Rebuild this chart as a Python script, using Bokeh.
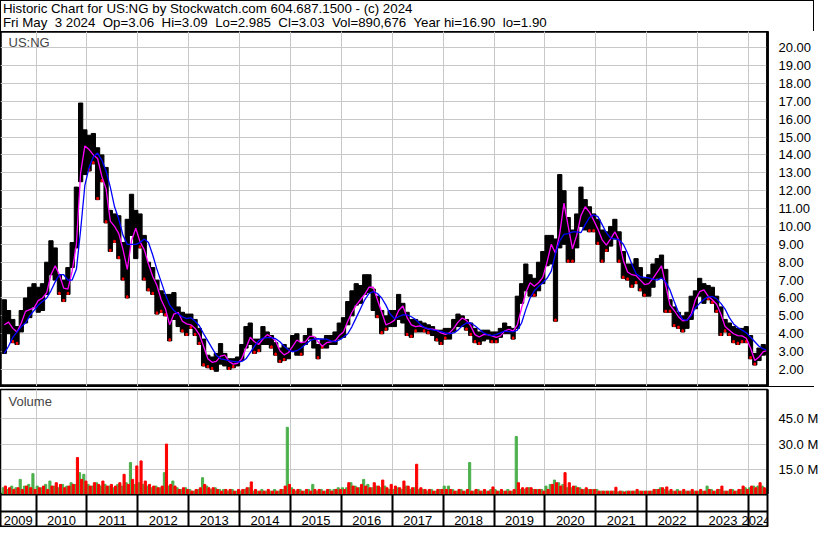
from bokeh.plotting import figure
from bokeh.layouts import column
from bokeh.models import (Range1d, FixedTicker, Grid, Label, LabelSet, Span, Div,
                          ColumnDataSource, PrintfTickFormatter)
from bokeh.embed import file_html
from bokeh.resources import INLINE
from bokeh.core.properties import value

# ---------------- data (monthly, May 2009 .. May 2024) ----------------
first_year, first_month = 2009, 5

high = [
    5.9, 5.3, 4.8, 4.4, 5.3, 6.0, 6.6, 6.8,                                  # 2009 May-Dec
    6.6, 6.8, 8.0, 9.2, 8.8, 7.3, 7.0, 7.7, 9.1, 12.2, 16.9, 15.4,           # 2010
    15.1, 15.2, 14.4, 14.0, 13.3, 10.9, 10.7, 10.6, 9.1, 10.4, 11.8, 10.9,   # 2011
    10.7, 9.5, 8.0, 7.7, 7.0, 6.4, 6.2, 6.2, 6.3, 5.5, 5.2, 5.1,             # 2012
    5.1, 4.8, 4.3, 3.7, 2.8, 2.7, 2.9, 3.45, 2.9, 2.6, 2.6, 2.7,             # 2013
    3.4, 4.4, 4.6, 3.7, 3.7, 4.4, 4.1, 3.9, 3.5, 3.2, 3.4, 3.2,              # 2014
    3.9, 4.0, 3.5, 3.9, 4.3, 3.8, 3.4, 3.7, 3.9, 3.9, 4.1, 4.6,              # 2015
    4.9, 5.8, 6.4, 6.8, 6.7, 7.3, 7.3, 6.5, 6.1, 5.3, 5.0, 5.3,              # 2016
    5.3, 6.2, 5.7, 5.2, 4.8, 4.8, 4.7, 4.6, 4.5, 4.4, 4.2, 4.2,              # 2017
    4.3, 4.3, 4.8, 5.1, 5.0, 4.8, 4.6, 4.3, 4.1, 4.2, 4.2, 4.1,              # 2018
    4.1, 4.3, 4.6, 4.4, 4.3, 6.1, 6.8, 7.9, 7.3, 7.1, 8.0, 8.6,              # 2019
    9.5, 9.5, 9.3, 12.9, 12.0, 10.5, 9.8, 10.7, 12.2, 11.5, 11.1, 10.7,      # 2020
    10.4, 9.8, 9.7, 10.0, 10.4, 9.7, 8.6, 7.9, 7.9, 8.2, 7.7, 7.1,           # 2021
    7.3, 7.9, 8.2, 8.4, 7.6, 5.9, 5.5, 5.2, 5.0, 5.2, 6.1, 6.4,              # 2022
    7.1, 6.8, 6.7, 6.6, 6.1, 5.5, 4.8, 4.6, 4.4, 4.3, 4.3, 4.4,              # 2023
    3.9, 2.9, 3.2, 3.4, 3.2,                                                 # 2024 Jan-May
]
low = [
    2.9, 4.0, 3.5, 3.4, 4.1, 4.6, 4.9, 5.5,
    5.2, 5.3, 6.2, 7.3, 7.0, 6.2, 5.8, 6.2, 7.7, 8.8, 12.5, 12.9,
    13.1, 13.5, 11.5, 12.5, 10.2, 8.6, 9.1, 8.2, 7.0, 6.0, 9.5, 8.2,
    8.8, 7.0, 6.4, 6.2, 5.1, 5.2, 5.0, 3.6, 4.8, 4.4, 4.1, 3.9,
    4.3, 3.9, 3.4, 2.2, 2.1, 2.0, 1.9, 2.3, 2.2, 2.0, 2.1, 2.2,
    2.5, 3.2, 3.4, 2.9, 3.0, 3.4, 3.4, 3.2, 2.8, 2.4, 2.5, 2.6,
    3.0, 2.8, 2.8, 3.4, 3.7, 3.2, 2.6, 3.2, 3.2, 3.4, 3.4, 3.7,
    3.8, 4.5, 5.0, 5.6, 5.7, 6.2, 6.3, 5.3, 4.9, 4.0, 4.2, 4.4,
    4.4, 4.8, 4.6, 3.9, 3.8, 4.1, 4.1, 4.1, 4.0, 3.9, 3.6, 3.4,
    3.7, 3.7, 4.1, 4.4, 4.4, 4.2, 3.9, 3.5, 3.4, 3.6, 3.7, 3.5,
    3.5, 3.8, 4.0, 4.0, 3.7, 4.3, 5.7, 6.4, 6.1, 6.1, 6.4, 6.8,
    7.8, 7.9, 4.7, 8.8, 9.0, 8.0, 8.0, 8.8, 10.0, 9.8, 9.7, 9.7,
    9.0, 8.0, 8.6, 8.9, 9.3, 8.0, 7.1, 7.0, 6.6, 6.8, 6.4, 6.1,
    6.1, 6.6, 7.1, 7.1, 5.2, 5.2, 4.4, 4.3, 4.1, 4.3, 4.8, 5.4,
    6.1, 5.7, 5.9, 5.7, 5.2, 3.9, 4.1, 3.9, 3.5, 3.4, 3.5, 3.5,
    2.6, 2.25, 2.5, 2.8, 2.9,
]
ma_fast = [
    4.5, 4.65, 4.3, 4.1, 4.6, 5.25, 5.35, 5.45,
    5.85, 6.0, 6.3, 7.3, 7.8, 7.3, 6.55, 6.5, 7.5, 9.0, 13.0, 14.5,
    14.3, 14.0, 13.8, 12.8, 12.1, 10.3, 10.0, 9.6, 8.7, 7.6, 9.2, 9.9,
    9.15, 8.7, 7.9, 7.2, 6.7, 5.9, 5.4, 4.5, 5.1, 5.2, 4.7, 4.55,
    4.5, 4.3, 3.95, 3.3, 2.6, 2.4, 2.45, 2.75, 2.8, 2.45, 2.3, 2.35,
    2.6, 3.2, 3.8, 3.55, 3.4, 3.7, 3.95, 3.8, 3.6, 3.05, 2.82, 2.95,
    3.3, 3.65, 3.5, 3.55, 3.85, 3.85, 3.55, 3.3, 3.5, 3.54, 3.6, 3.9,
    4.1, 4.7, 5.2, 5.6, 5.9, 6.2, 6.6, 6.6, 5.9, 5.2, 4.5, 4.6,
    4.75, 5.3, 5.55, 4.9, 4.5, 4.4, 4.44, 4.35, 4.26, 4.26, 4.2, 4.05,
    3.97, 4.05, 4.3, 4.65, 4.88, 4.75, 4.44, 3.95, 3.82, 3.95, 3.95, 3.88,
    3.8, 3.88, 4.15, 4.25, 4.15, 4.5, 5.45, 6.3, 6.85, 6.65, 6.85, 7.15,
    8.0, 9.0, 8.5, 9.6, 11.3, 10.0, 8.75, 9.5, 10.6, 11.1, 10.8, 10.35,
    9.85, 9.25, 8.95, 9.3, 9.7, 9.2, 8.1, 7.45, 7.3, 7.25, 7.0, 6.75,
    6.8, 7.1, 7.45, 7.8, 6.7, 5.6, 5.3, 4.95, 4.72, 4.75, 5.1, 5.9,
    6.35, 6.45, 6.1, 5.9, 5.65, 5.1, 4.4, 4.2, 4.0, 3.9, 3.88, 3.75,
    3.2, 2.5, 2.7, 3.0, 3.05,
]
ma_slow = [
    2.9, 3.3, 3.8, 4.1, 4.4, 4.6, 5.0, 5.3,
    5.6, 5.8, 6.0, 6.4, 6.9, 7.3, 7.3, 7.0, 7.0, 7.6, 9.8, 12.3,
    13.3, 13.9, 14.1, 13.7, 13.1, 12.2, 11.1, 10.4, 9.5, 9.0, 9.0, 9.0,
    9.1, 9.3, 9.1, 8.4, 7.6, 6.9, 6.2, 5.6, 5.3, 5.1, 4.95, 4.85,
    4.9, 4.7, 4.45, 4.0, 3.6, 3.2, 2.8, 2.6, 2.55, 2.5, 2.45, 2.42,
    2.45, 2.6, 2.95, 3.3, 3.6, 3.75, 3.78, 3.78, 3.72, 3.55, 3.3, 3.1,
    3.0, 3.05, 3.2, 3.4, 3.6, 3.7, 3.72, 3.7, 3.7, 3.6, 3.55, 3.65,
    3.8, 4.0, 4.4, 4.9, 5.4, 5.9, 6.25, 6.35, 6.25, 6.0, 5.6, 5.1,
    4.85, 4.95, 5.05, 5.05, 4.95, 4.8, 4.55, 4.35, 4.28, 4.22, 4.17, 4.12,
    4.05, 4.0, 4.05, 4.2, 4.45, 4.6, 4.6, 4.45, 4.25, 4.05, 3.95, 3.9,
    3.95, 4.05, 4.15, 4.12, 4.1, 4.2, 4.6, 5.35, 6.0, 6.4, 6.65, 6.85,
    7.1, 7.5, 8.5, 9.2, 9.55, 9.6, 9.7, 9.7, 9.65, 10.1, 10.5, 10.65,
    10.55, 10.1, 9.65, 9.35, 9.3, 9.25, 9.0, 8.5, 7.9, 7.35, 7.18, 7.15,
    7.12, 7.05, 7.0, 7.12, 6.9, 6.45, 5.8, 5.2, 4.8, 4.75, 5.0, 5.45,
    5.7, 5.92, 6.06, 6.08, 5.95, 5.7, 5.38, 4.9, 4.55, 4.35, 4.2, 4.05,
    3.8, 3.55, 3.3, 3.15, 3.08,
]
# volume (millions), up-day and down-day envelope per month
vol_up = [
    4, 3, 5, 4, 9, 5, 6, 12.4,
    5, 4, 6, 8, 5, 4, 6, 5, 7, 6, 13, 12,
    6, 5, 7, 5, 6, 5, 4, 6, 5, 7, 19, 6,
    7, 6, 5, 4, 5, 4, 13, 5, 8, 4, 3, 4,
    3, 2, 3, 10, 5, 3, 4, 3, 3, 2, 3, 2,
    2, 3, 4, 2, 2, 3, 2, 2, 3, 2, 3, 40,
    4, 2, 3, 2, 3, 6, 2, 3, 2, 3, 3, 4,
    4, 4, 7, 5, 4, 9, 6, 4, 5, 4, 5, 3,
    3, 4, 3, 5, 3, 4, 3, 3, 2, 3, 2, 3,
    5, 5, 3, 2, 3, 2, 19, 2, 3, 2, 2, 3,
    3, 2, 2, 3, 2, 34.5, 3, 3, 4, 3, 3, 3,
    5, 6, 8.6, 7, 6, 4, 4, 5, 4, 3, 3, 3,
    3, 2, 2, 2, 2, 1.5, 2, 2, 2, 2, 2, 2,
    2, 2, 3, 4, 3, 2, 2, 3, 2, 2, 2, 2,
    2, 2, 5, 3, 2, 3, 2, 2, 3, 2, 3, 4,
    4, 5, 5, 5, 3,
]
vol_down = [
    5, 4, 3, 4, 3, 5, 4, 3,
    4, 5, 3, 5, 7, 6, 4, 5, 6, 22, 9, 8,
    5, 7, 6, 8, 5, 6, 5, 7, 12, 6, 9, 17,
    20, 8, 6, 5, 4, 5, 30, 6, 5, 3, 4, 3,
    2, 3, 4, 6, 4, 4, 3, 2, 3, 3, 2, 3,
    3, 4, 7.5, 3, 2, 2, 3, 2, 2, 3, 5, 6,
    3, 3, 2, 3, 2, 3, 3, 2, 3, 2, 3, 3,
    3, 7, 5, 4, 6, 5, 4, 7, 5, 8.6, 4, 6,
    5, 4, 8, 5, 4, 18, 4, 3, 3, 2, 3, 3,
    3, 3, 2, 3, 2, 3, 2, 3, 2, 3, 2, 4.5,
    2, 3, 2, 2, 3, 7, 4, 4, 4, 3, 3, 2,
    3, 6, 7, 5, 13, 7, 5, 4, 3, 4, 3, 3,
    2, 2, 2, 2, 4.3, 2, 1.5, 2, 2, 3, 2, 2,
    2, 3, 3, 4, 4.5, 3, 2, 2, 3, 2, 3, 2,
    3, 2, 3, 2, 3, 5, 2, 3, 2, 3, 5, 3,
    5, 4, 7, 4, 3,
]
price_ticks = [float(v) for v in range(2, 21)]
volume_ticks = [15, 30, 45]
year_starts = list(range(2010, 2025))
year_labels = [str(y) for y in range(2009, 2025)]

title_line1 = "Historic Chart for US:NG by Stockwatch.com 604.687.1500 - (c) 2024"
title_line2 = ("Fri May  3 2024  Op=3.06  Hi=3.09  Lo=2.985  Cl=3.03  "
               "Vol=890,676  Year hi=16.90  lo=1.90")

# ---------------- derived positions ----------------
n = len(high)
xs = []
for i in range(n):
    mi = first_month - 1 + i
    yy = first_year + mi // 12
    mm = mi % 12
    xs.append(yy + (mm + 0.5) / 12.0)
mw = 1.0 / 12.0

X0, X1 = 2009.30, 2024.375
label_x = [(X0 + 2010) / 2] + [y + 0.5 for y in range(2010, 2024)] + [(2024 + X1) / 2 - 0.04]

down_idx = [i for i in range(1, n) if ma_fast[i] < ma_fast[i - 1]]

FONT = "Liberation Sans"
GRID = "#c8c8c8"
FRAME_W = 767
RIGHT_W = 47
TOTAL_W = FRAME_W + RIGHT_W

x_range = Range1d(X0, X1)

def base(**kw):
    p = figure(toolbar_location=None, output_backend="svg", **kw)
    p.background_fill_color = "white"
    p.border_fill_color = "white"
    return p

# ---------------- header ----------------
hdr = Div(text=title_line1 + "\n" + title_line2, width=TOTAL_W, height=31, margin=0,
          styles={"font-family": FONT, "font-size": "13.3px", "line-height": "14px",
                  "white-space": "pre", "color": "black", "box-sizing": "border-box",
                  "border-top": "1px solid black", "border-left": "1px solid black",
                  "border-right": "1px solid black", "padding": "1px 0 0 2px",
                  "margin": "0", "overflow": "hidden", "background": "white"})

# ---------------- price panel ----------------
pp = base(frame_width=FRAME_W, frame_height=355, x_range=x_range,
          y_range=Range1d(1.05, 20.9), x_axis_location=None, y_axis_location="right",
          min_border_left=0, min_border_right=RIGHT_W, min_border_top=0, min_border_bottom=0)
pp.outline_line_color = "black"
pp.outline_line_width = 2.5
pp.yaxis.ticker = FixedTicker(ticks=price_ticks)
pp.yaxis.formatter = PrintfTickFormatter(format="%.2f")
pp.ygrid.ticker = FixedTicker(ticks=price_ticks)
pp.ygrid.grid_line_color = GRID
pp.add_layout(Grid(dimension=0, ticker=FixedTicker(ticks=year_starts), grid_line_color=GRID))
for ax in pp.yaxis:
    ax.axis_line_width = 2.5
    ax.axis_line_color = "black"
    ax.major_tick_line_color = None
    ax.minor_tick_line_color = None
    ax.major_label_text_font = FONT
    ax.major_label_text_font_size = "13px"
    ax.major_label_text_color = "black"
    ax.major_label_standoff = 5

src = ColumnDataSource(dict(x=xs, high=high, low=low, fast=ma_fast, slow=ma_slow))
pp.vbar(x="x", top="high", bottom="low", width=mw, color="black", source=src)
dsrc = ColumnDataSource(dict(x=[xs[i] for i in down_idx],
                             b=[low[i] for i in down_idx],
                             t=[low[i] + 0.12 for i in down_idx]))
pp.vbar(x="x", top="t", bottom="b", width=mw * 0.35, color="#ff0000", source=dsrc)
pp.line("x", "fast", color="#ff00ff", line_width=1.3, source=src)
pp.line("x", "slow", color="#0000ff", line_width=1.3, source=src)
pp.add_layout(Label(x=8, y=352, x_units="screen", y_units="screen", text="US:NG",
                    text_font=FONT, text_font_size="13px", text_baseline="top"))

# separator line running across the full width (incl. the right label column)
sep = Div(text="", width=TOTAL_W, height=1, margin=0,
          styles={"background": "black", "margin": "0"})

# ---------------- volume panel ----------------
vp = base(frame_width=FRAME_W, frame_height=105, x_range=x_range,
          y_range=Range1d(0, 62.5), x_axis_location=None, y_axis_location="right",
          min_border_left=0, min_border_right=RIGHT_W, min_border_top=2, min_border_bottom=0)
vp.outline_line_color = "black"
vp.outline_line_width = 1.5
vp.yaxis.ticker = FixedTicker(ticks=volume_ticks)
vp.yaxis.formatter = PrintfTickFormatter(format="%.1f M")
vp.ygrid.ticker = FixedTicker(ticks=volume_ticks)
vp.ygrid.grid_line_color = GRID
vp.add_layout(Grid(dimension=0, ticker=FixedTicker(ticks=year_starts), grid_line_color=GRID))
for ax in vp.yaxis:
    ax.axis_line_width = 2.5
    ax.axis_line_color = "black"
    ax.major_tick_line_color = None
    ax.minor_tick_line_color = None
    ax.major_label_text_font = FONT
    ax.major_label_text_font_size = "13px"
    ax.major_label_text_color = "black"
    ax.major_label_standoff = 5

vsrc = ColumnDataSource(dict(xu=[x - mw / 4 for x in xs], xd=[x + mw / 4 for x in xs],
                             up=vol_up, dn=vol_down))
vp.vbar(x="xu", top="up", bottom=0, width=mw / 2, color="#4cb04c", source=vsrc)
vp.vbar(x="xd", top="dn", bottom=0, width=mw / 2, color="#ff0000", source=vsrc)
vp.add_layout(Label(x=8, y=101, x_units="screen", y_units="screen", text="Volume",
                    text_font=FONT, text_font_size="13px", text_baseline="top"))

# ---------------- year strip ----------------
yf = base(frame_width=FRAME_W, frame_height=33, x_range=x_range, y_range=Range1d(0, 33),
          x_axis_location=None, y_axis_location=None,
          min_border_left=0, min_border_right=RIGHT_W, min_border_top=0, min_border_bottom=0)
yf.grid.visible = False
yf.outline_line_color = "black"
yf.outline_line_width = 2
yf.add_layout(Grid(dimension=0, ticker=FixedTicker(ticks=year_starts),
                   grid_line_color="black", grid_line_width=2))
yf.add_layout(Span(location=16, dimension="width", line_color="black", line_width=2))
ysrc = ColumnDataSource(dict(x=label_x, y=[7.5] * len(label_x), t=year_labels))
yf.add_layout(LabelSet(x="x", y="y", text="t", source=ysrc, text_align="center",
                       text_baseline="middle", text_font=value(FONT),
                       text_font_size=value("13px"), text_color=value("black")))

layout = column(hdr, pp, sep, vp, yf, spacing=0)
open("out.html", "w").write(file_html(layout, INLINE))
